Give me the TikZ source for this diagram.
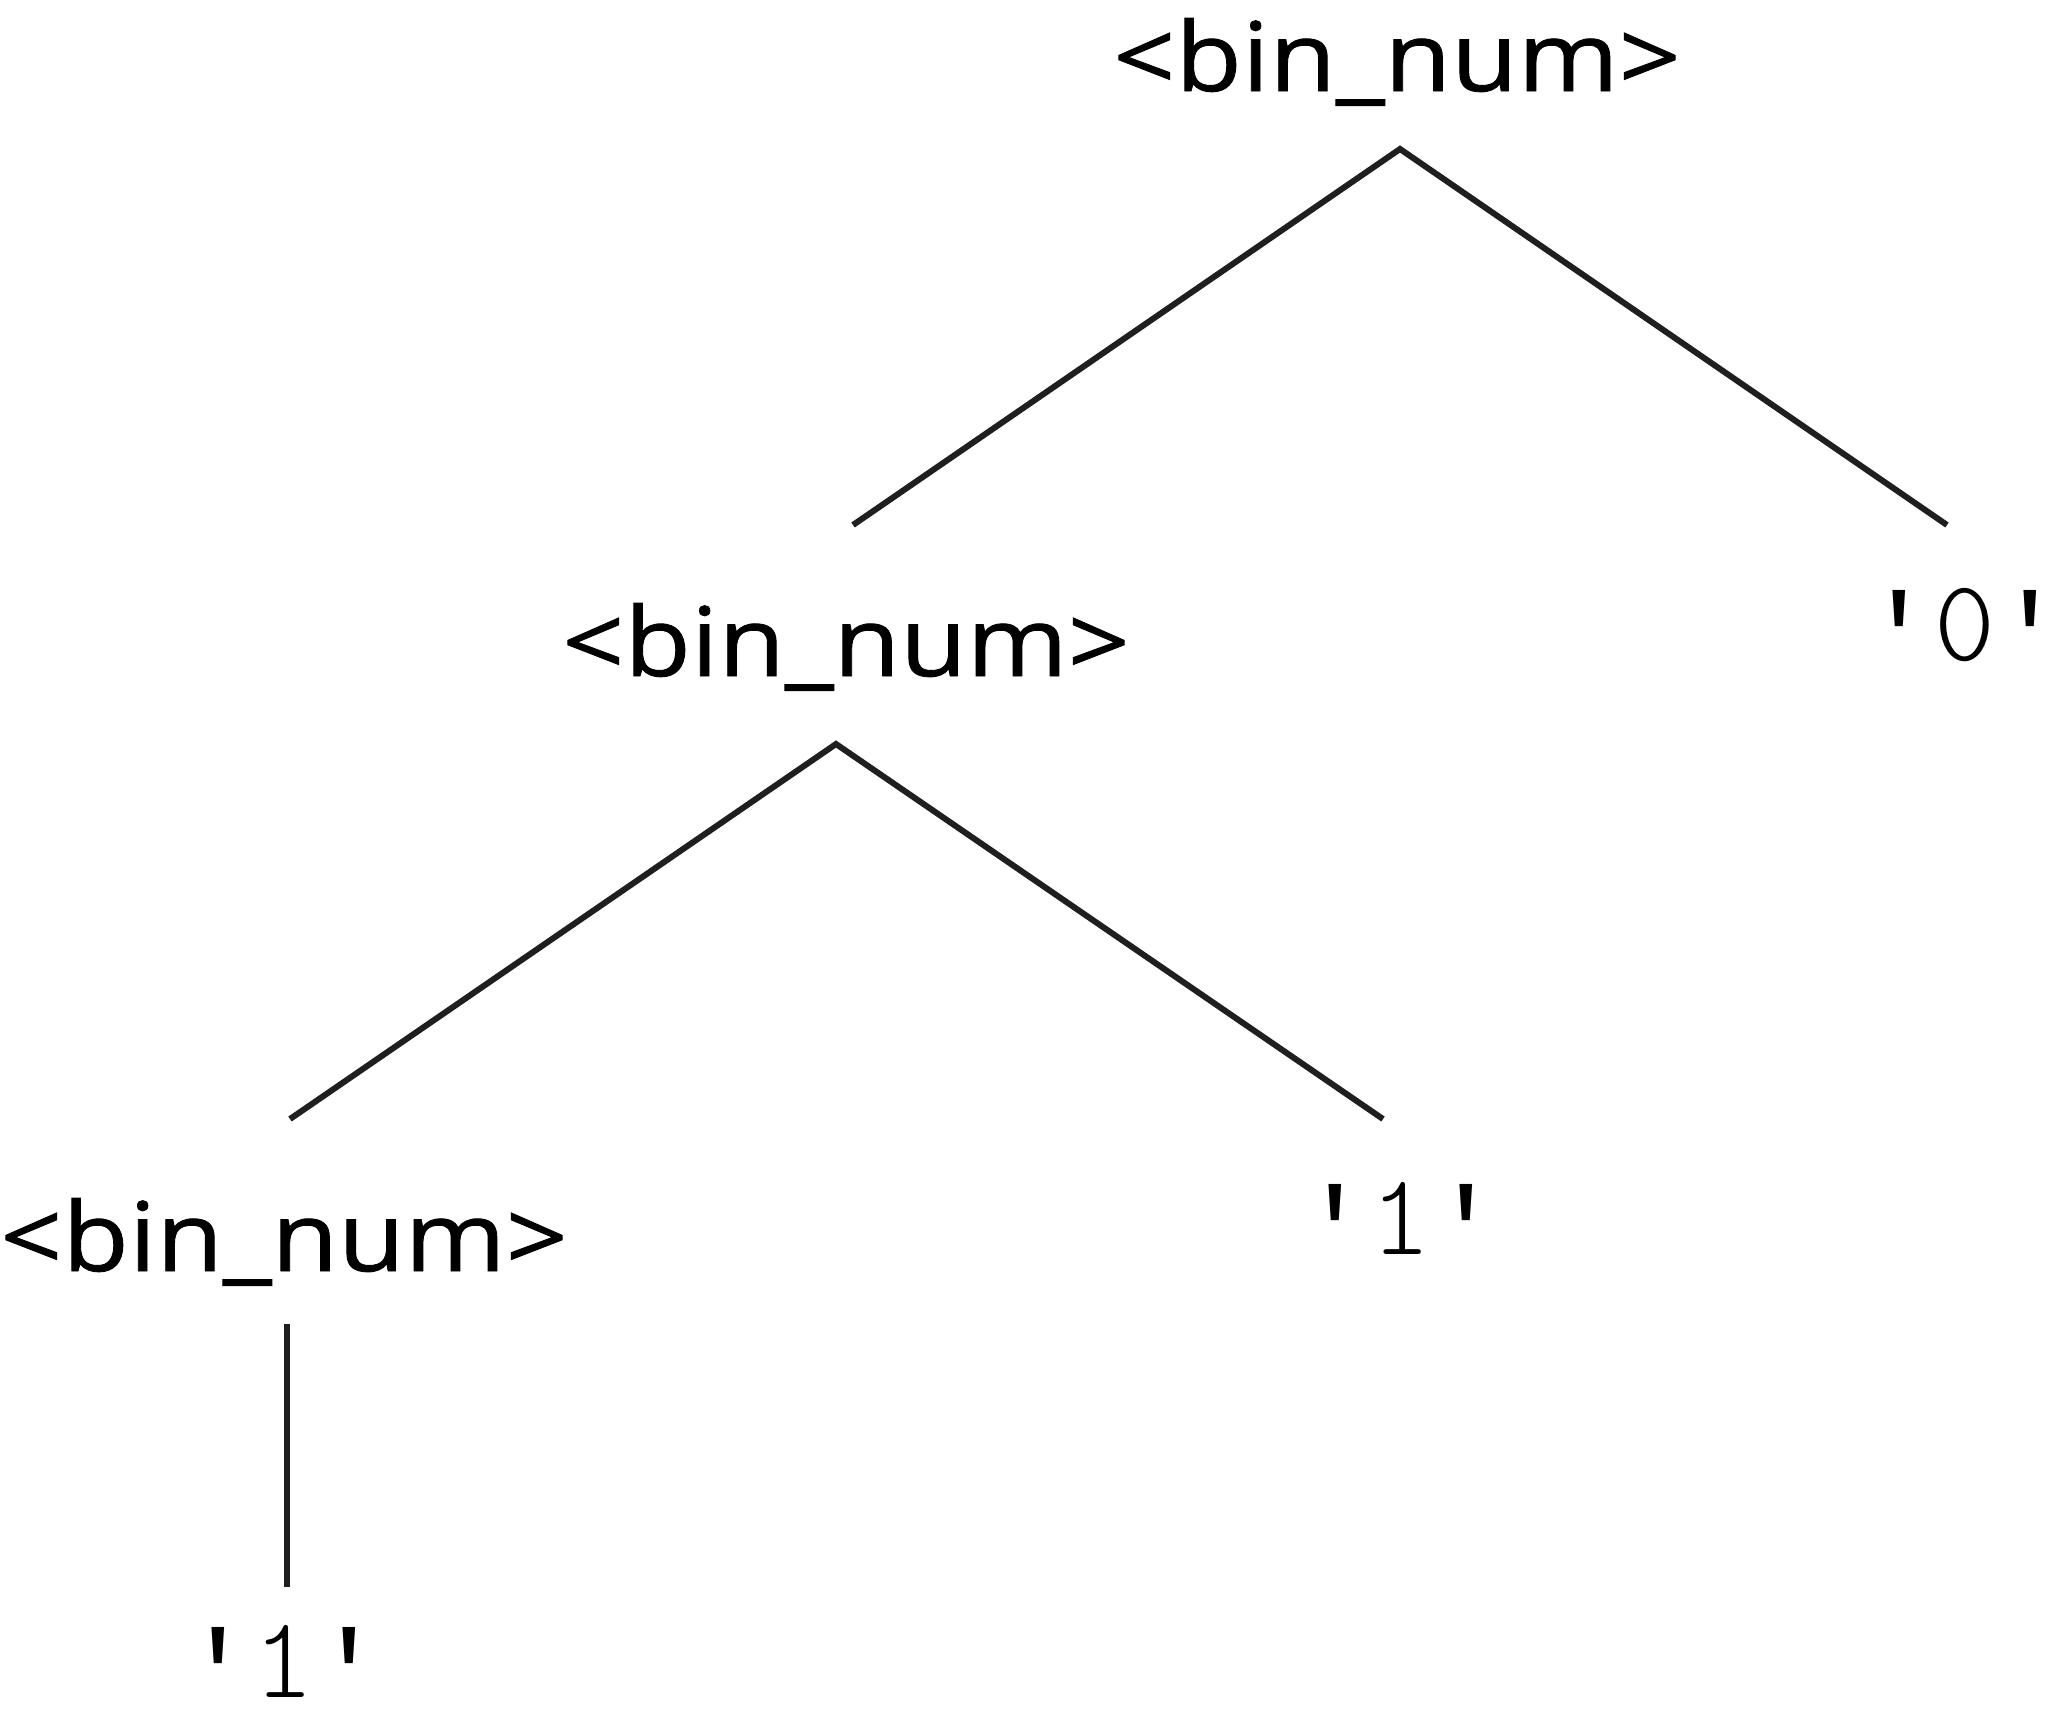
\documentclass[tikz,border=0pt]{standalone}
\usepackage{fontspec}
\setsansfont{Open Sans}[FakeStretch=1.13,FakeBold=0.9]
\setmonofont{Latin Modern Mono Light}
\newfontfamily\ttquote{Liberation Mono}
\newcommand{\sq}{\raisebox{-7pt}{\ttquote\textquotesingle}}
\begin{document}
\begin{tikzpicture}[x=0.5pt,y=-0.5pt,
  nt/.style={inner sep=0pt,anchor=base,font=\sffamily\fontsize{48}{56}\selectfont},
  term/.style={inner sep=0pt,anchor=base,font=\ttfamily\fontsize{58}{62}\selectfont},
  edge/.style={line width=3pt,black!88}]
\useasboundingbox (0,0) rectangle (2048,1708);
\node[nt] (n1) at (1397,91) {<bin\_num>};
\node[nt] (n2) at (846,676) {<bin\_num>};
\node[term] (t0) at (1965,660) {\sq 0\sq};
\node[nt] (n3) at (284,1271) {<bin\_num>};
\node[term] (t1a) at (1401,1254) {\sq 1\sq};
\node[term] (t1b) at (284,1697) {\sq 1\sq};
\coordinate (a1) at (1400,149);
\coordinate (e1l) at (853,525);
\coordinate (e1r) at (1947,525);
\coordinate (a2) at (836,744);
\coordinate (e2l) at (290,1119);
\coordinate (e2r) at (1383,1119);
\coordinate (v1) at (287,1324);
\coordinate (v2) at (287,1587);
\draw[edge] (e1l) -- (a1) -- (e1r);
\draw[edge] (e2l) -- (a2) -- (e2r);
\draw[edge] (v1) -- (v2);
\end{tikzpicture}
\end{document}
